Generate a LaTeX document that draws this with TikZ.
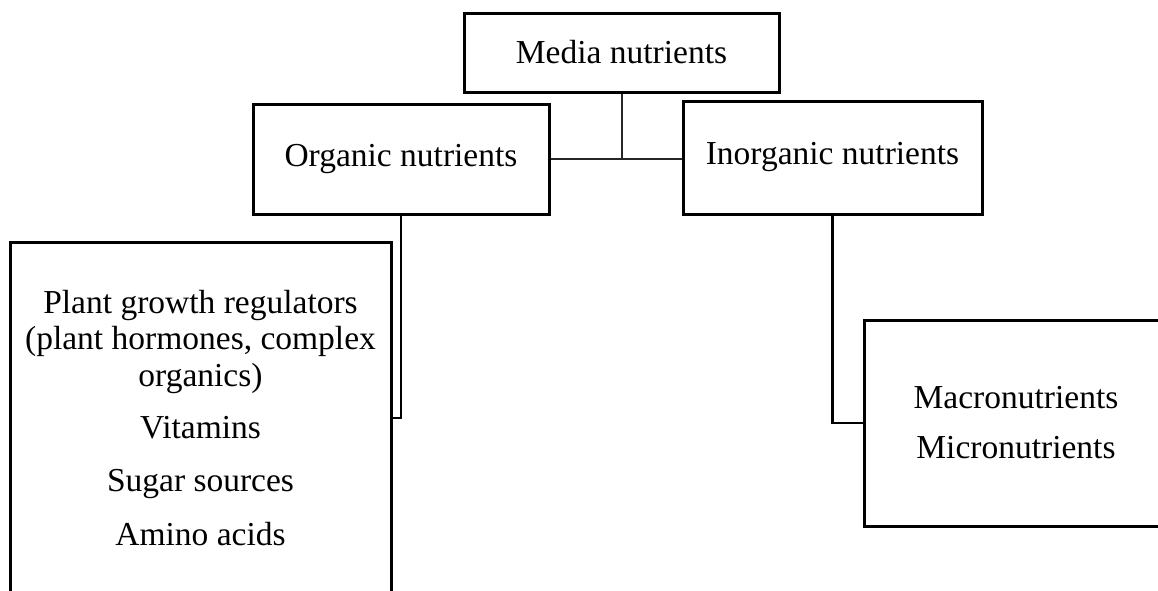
\documentclass[tikz,border=0pt]{standalone}
\usepackage{fontspec}
\setmainfont{Liberation Serif}
\begin{document}
\begin{tikzpicture}[x=1pt,y=-1pt,
  box/.style={draw=black,line width=3pt,fill=white,inner sep=0pt,align=center,
    font=\fontsize{33.5}{36.5}\selectfont},
  thinline/.style={draw=black!85,line width=2pt},
  thickline/.style={draw=black,line width=2.8pt}]
\useasboundingbox (0,0) rectangle (1158,590);
\clip (0,0) rectangle (1158,590);
\node[box,minimum width=315,minimum height=79] (media) at (621.5,52.5) {Media nutrients};
\node[box,minimum width=296,minimum height=110] (organic) at (401,159) {Organic nutrients};
\node[box,minimum width=299,minimum height=113] (inorganic) at (832.5,157.5) {Inorganic nutrients};
\node[box,minimum width=381,minimum height=352] (orglist) at (200.5,418)
  {Plant growth regulators\\(plant hormones, complex\\organics)\\[16pt]Vitamins\\[16pt]Sugar sources\\[18pt]Amino acids};
\node[box,minimum width=304,minimum height=206,font=\fontsize{33.5}{50}\selectfont] (inorglist) at (1016,423)
  {Macronutrients\\Micronutrients};
\draw[thinline] (media.south) -- (media.south |- organic.east);
\draw[thinline] (organic.east) -- (inorganic.west |- organic.east);
\draw[thickline] (organic.south) |- (orglist.east);
\draw[thickline] (inorganic.south) |- (inorglist.west);
\end{tikzpicture}
\end{document}
